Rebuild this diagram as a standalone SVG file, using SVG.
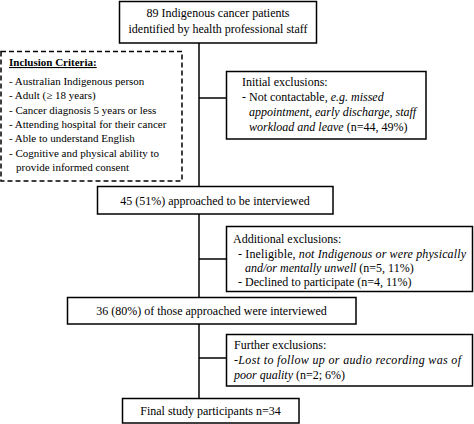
<svg xmlns="http://www.w3.org/2000/svg" width="474" height="424" viewBox="0 0 474 424">
<style>
.box{fill:#fff;stroke:#000;stroke-width:1.5}
.dash{fill:#fff;stroke:#000;stroke-width:1.5;stroke-dasharray:5,3}
.ln{stroke:#000;stroke-width:1.5;fill:none}
text{font-family:"Liberation Serif","Times New Roman",serif;font-size:12px;fill:#000}
.s{font-size:11px}
.c{text-anchor:middle}
.i{font-style:italic}
.b{font-weight:bold;text-decoration:underline}
</style>
<rect width="474" height="424" fill="#fff"/>
<g id="connectors">
<line class="ln" x1="199" y1="43" x2="199" y2="398"/>
<line class="ln" x1="199" y1="98" x2="226" y2="98"/>
<line class="ln" x1="199" y1="259" x2="226" y2="259"/>
<line class="ln" x1="199" y1="358" x2="226" y2="358"/>
</g>
<g id="identified">
<rect class="box" x="119.5" y="1.5" width="197" height="41.5"/>
<text class="c" x="218" y="16.5">89 Indigenous cancer patients</text>
<text class="c" x="218" y="32.5">identified by health professional staff</text>
</g>
<g id="inclusion">
<rect class="dash" x="1" y="51.5" width="181" height="129.5"/>
<text class="s b" x="9" y="66">Inclusion Criteria:</text>
<text class="s" x="9" y="85">- Australian Indigenous person</text>
<text class="s" x="9" y="99">- Adult (≥ 18 years)</text>
<text class="s" x="9" y="114">- Cancer diagnosis 5 years or less</text>
<text class="s" x="9" y="128">- Attending hospital for their cancer</text>
<text class="s" x="9" y="142">- Able to understand English</text>
<text class="s" x="9" y="157">- Cognitive and physical ability to</text>
<text class="s" x="16" y="171">provide informed consent</text>
</g>
<g id="initial">
<rect class="box" x="226.5" y="71.5" width="199.5" height="67.5"/>
<text x="242" y="85.5">Initial exclusions:</text>
<text x="242" y="101">- Not contactable, <tspan class="i">e.g. missed</tspan></text>
<text class="i" x="249" y="116">appointment, early discharge, staff</text>
<text x="249" y="131"><tspan class="i">workload and leave</tspan> (n=44, 49%)</text>
</g>
<g id="approached">
<rect class="box" x="97.5" y="186.5" width="235.5" height="27.5"/>
<text class="c" x="215" y="204.5">45 (51%) approached to be interviewed</text>
</g>
<g id="additional">
<rect class="box" x="226.5" y="226.5" width="246" height="65"/>
<text x="233" y="243">Additional exclusions:</text>
<text x="238" y="257.5" textLength="228" lengthAdjust="spacing">- Ineligible, <tspan class="i">not Indigenous or were physically</tspan></text>
<text x="245" y="272"><tspan class="i">and/or mentally unwell</tspan> (n=5, 11%)</text>
<text x="238" y="286">- Declined to participate (n=4, 11%)</text>
</g>
<g id="interviewed">
<rect class="box" x="67.5" y="297.5" width="288.5" height="26.5"/>
<text class="c" x="211.5" y="315">36 (80%) of those approached were interviewed</text>
</g>
<g id="further">
<rect class="box" x="226.5" y="334.5" width="246" height="51.5"/>
<text x="234" y="349">Further exclusions:</text>
<text class="i" x="234" y="364" textLength="227" lengthAdjust="spacing">-Lost to follow up or audio recording was of</text>
<text x="234" y="378.5"><tspan class="i">poor quality</tspan> (n=2; 6%)</text>
</g>
<g id="final">
<rect class="box" x="122.5" y="398.5" width="176.5" height="24.5"/>
<text class="c" x="210.5" y="415">Final study participants n=34</text>
</g>
</svg>
